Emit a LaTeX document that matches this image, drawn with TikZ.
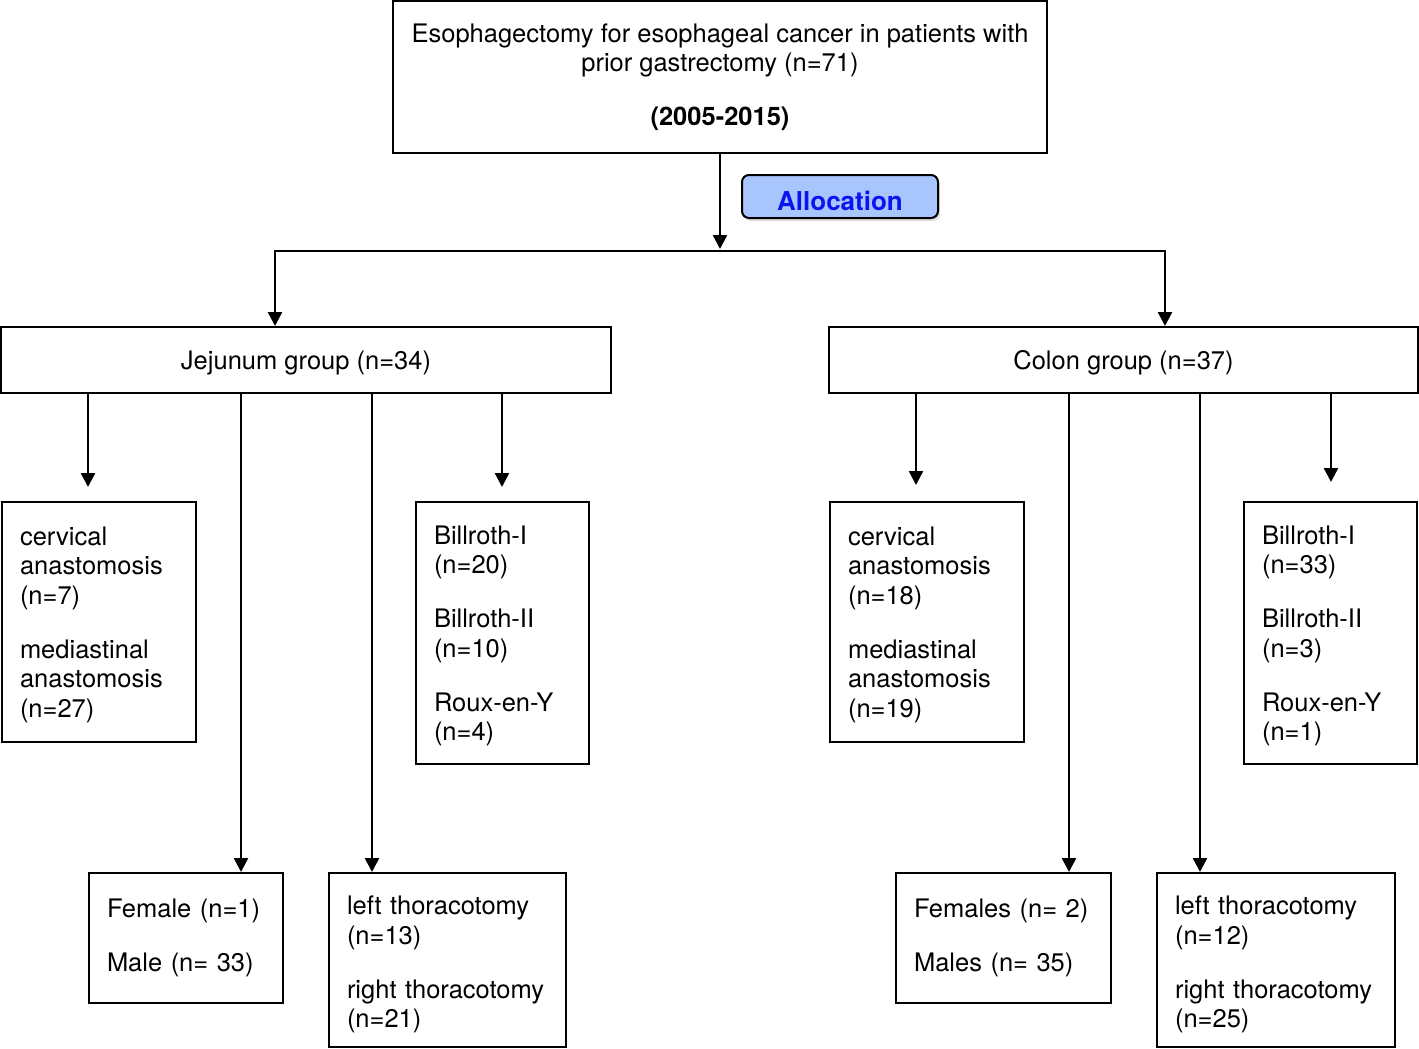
\documentclass[tikz,border=0pt]{standalone}
\usepackage{fontspec}
\setmainfont{TeX Gyre Heros}
\usetikzlibrary{arrows.meta,shadows}
\definecolor{allocfill}{HTML}{A9C5FD}
\definecolor{allocblue}{HTML}{0A14F0}
\begin{document}
\begin{tikzpicture}[x=1pt,y=-1pt,
  every node/.style={font=\fontsize{25.5}{29.5}\selectfont},
  box/.style={draw, line width=2pt, inner sep=0pt, inner xsep=18pt, align=left, text height=24pt},
  cbox/.style={draw, line width=2pt, inner sep=0pt, align=center},
  conn/.style={line width=2.5pt},
  arr/.style={line width=2.5pt, -{Triangle[width=14pt,length=14pt]}}]
\useasboundingbox (0,0) rectangle (1419,1049);
\fill[white] (0,0) rectangle (1419,1049);

% top
\node[cbox, minimum width=654pt, minimum height=152pt] (top) at (720,77)
  {Esophagectomy for esophageal cancer in patients with\\prior gastrectomy (n=71)\\[24.5pt]\textbf{(2005-2015)}};
\node[draw, line width=2pt, rounded corners=7pt, fill=allocfill, minimum width=196pt, minimum height=43pt,
  inner sep=0pt, text=allocblue, text depth=0pt, text height=28pt, font=\fontsize{26}{29.5}\selectfont\bfseries,
  drop shadow={opacity=0.25, shadow xshift=2pt, shadow yshift=-3pt}] (alloc) at (840,196.5) {Allocation};

% groups
\node[cbox, text depth=0pt, minimum width=610pt, minimum height=66pt] (jej) at (306,360) {Jejunum group (n=34)};
\node[cbox, text depth=0pt, minimum width=589pt, minimum height=66pt] (col) at (1123.5,360) {Colon group (n=37)};

% left sub boxes
\node[box, text width=158pt, minimum height=240pt] (cervL) at (99,622)
  {cervical\\anastomosis\\(n=7)\\[24.5pt]mediastinal\\anastomosis\\(n=27)};
\node[box, text width=137pt, minimum height=262pt] (billL) at (502.5,633)
  {Billroth-I\\(n=20)\\[24.5pt]Billroth-II\\(n=10)\\[24.5pt]Roux-en-Y\\(n=4)};
\node[box, text height=, text width=158pt, minimum height=130pt] (femL) at (186,938)
  {Female (n=1)\\[24.5pt]Male (n= 33)};
\node[box, text height=28pt, text width=201pt, minimum height=174pt] (thorL) at (447.5,960)
  {left thoracotomy\\(n=13)\\[24.5pt]right thoracotomy\\(n=21)};

% right sub boxes
\node[box, text width=158pt, minimum height=240pt] (cervR) at (927,622)
  {cervical\\anastomosis\\(n=18)\\[24.5pt]mediastinal\\anastomosis\\(n=19)};
\node[box, text width=137pt, minimum height=262pt] (billR) at (1330.5,633)
  {Billroth-I\\(n=33)\\[24.5pt]Billroth-II\\(n=3)\\[24.5pt]Roux-en-Y\\(n=1)};
\node[box, text height=, text width=179pt, minimum height=130pt] (femR) at (1003.5,938)
  {Females (n= 2)\\[24.5pt]Males (n= 35)};
\node[box, text height=28pt, text width=202pt, minimum height=174pt] (thorR) at (1276,960)
  {left thoracotomy\\(n=12)\\[24.5pt]right thoracotomy\\(n=25)};

% top connectors
\coordinate (split) at (720,249);
\coordinate (hl) at (275,251);
\coordinate (hr) at (1165,251);
\draw[arr] (top.south -| split) -- (split);
\draw[conn] ([xshift=-1.25pt]hl) -- ([xshift=1.25pt]hr);
\draw[arr] (hl) -- (hl |- jej.north);
\draw[arr] (hr) -- (hr |- col.north);

% left branch
\coordinate (ecL) at (88,487);
\coordinate (ebL) at (502,487);
\draw[arr] (jej.south -| ecL) -- (ecL);
\draw[arr] (jej.south -| ebL) -- (ebL);
\draw[arr] (jej.south -| 241,0) -- (femL.north -| 241,0);
\draw[arr] (jej.south -| 372,0) -- (thorL.north -| 372,0);

% right branch
\coordinate (ecR) at (916,485);
\coordinate (ebR) at (1331,482);
\draw[arr] (col.south -| ecR) -- (ecR);
\draw[arr] (col.south -| ebR) -- (ebR);
\draw[arr] (col.south -| 1069,0) -- (femR.north -| 1069,0);
\draw[arr] (col.south -| 1200,0) -- (thorR.north -| 1200,0);
\end{tikzpicture}
\end{document}
